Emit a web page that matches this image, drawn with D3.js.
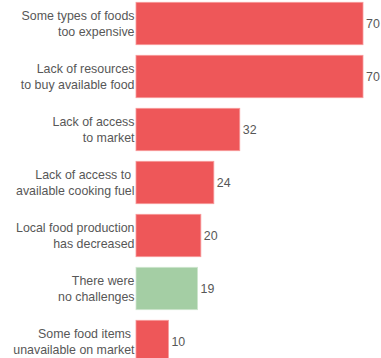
<!DOCTYPE html>
<html><head><meta charset="utf-8">
<script src="https://cdn.jsdelivr.net/npm/d3@7"></script>
<style>html,body{margin:0;padding:0;background:#fff;overflow:hidden}</style>
</head><body>
<svg id="c" width="381" height="358"></svg>
<script>
const categories = [
  ["Some types of foods", "too expensive"],
  ["Lack of resources", "to buy available food"],
  ["Lack of access", "to market"],
  ["Lack of access to ", "available cooking fuel"],
  ["Local food production", "has decreased"],
  ["There were", "no challenges"],
  ["Some food items ", "unavailable on market"]
];
const values = [70, 70, 32, 24, 20, 19, 10];
const highlight = [false, false, false, false, false, true, false];

const svg = d3.select("#c");
const x = d3.scaleLinear().domain([0, 70]).range([136, 363]);
const y = d3.scaleBand().domain(d3.range(values.length)).range([-3, 368]).paddingInner(0.2).paddingOuter(0.1);
const FS = 12.4;

const g = svg.selectAll("g.row").data(values).join("g").attr("class","row");
g.append("rect")
  .attr("x", x(0))
  .attr("y", (d,i) => y(i))
  .attr("width", d => x(d) - x(0))
  .attr("height", y.bandwidth())
  .attr("fill", (d,i) => highlight[i] ? "#a4cea4" : "#ee5759")
  .attr("stroke", (d,i) => highlight[i] ? "#cfe6cf" : "#f79a9b")
  .attr("stroke-width", 0.8);
g.append("text")
  .attr("x", d => x(d) + 3)
  .attr("y", (d,i) => y(i) + y.bandwidth()/2)
  .attr("dy", "0.35em")
  .attr("font-family", "Liberation Sans, Arial, sans-serif")
  .attr("font-size", FS)
  .attr("fill", "#575757")
  .text(d => d);
const lbl = g.append("text")
  .attr("text-anchor", "end")
  .attr("font-family", "Liberation Sans, Arial, sans-serif")
  .attr("font-size", FS)
  .attr("fill", "#575757")
  .style("white-space", "pre")
  .attr("xml:space", "preserve");
lbl.each(function(d,i){
  const t = d3.select(this);
  categories[i].forEach((line, j) => {
    t.append("tspan")
      .attr("x", 134.5)
      .attr("y", y(i) + y.bandwidth()/2 + (j === 0 ? -8 : 8))
      .attr("dy", "0.35em")
      .text(line);
  });
});
</script>
</body></html>
